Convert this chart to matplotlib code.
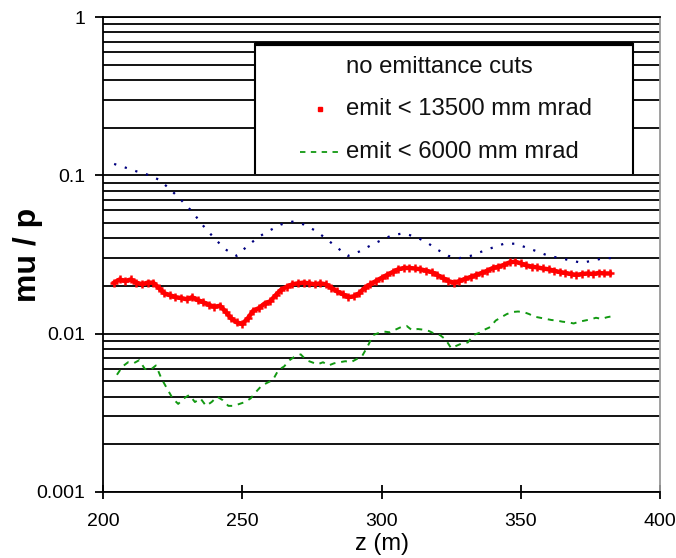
import matplotlib
matplotlib.use("Agg")
import matplotlib.pyplot as plt
from matplotlib.patches import Rectangle
from matplotlib.ticker import FixedLocator, FixedFormatter, NullLocator

plt.rcParams['font.family'] = ['Liberation Sans', 'DejaVu Sans']

# ---------------- data ----------------
z_all = [204, 208, 212, 216, 220, 224, 228, 232, 236, 240, 244, 248, 252, 256, 260,
         264, 268, 272, 276, 280, 284, 288, 292, 296, 300, 304, 308, 312, 316, 320,
         324, 328, 332, 336, 340, 344, 348, 352, 356, 360, 364, 368, 372, 376, 380, 384]
mu_all = [0.118, 0.112, 0.106, 0.101, 0.094, 0.082, 0.070, 0.059, 0.048, 0.040, 0.034,
          0.031, 0.036, 0.041, 0.045, 0.049, 0.051, 0.049, 0.045, 0.040, 0.035, 0.031,
          0.033, 0.036, 0.039, 0.042, 0.043, 0.041, 0.038, 0.034, 0.031, 0.030, 0.031,
          0.033, 0.035, 0.037, 0.037, 0.035, 0.033, 0.031, 0.030, 0.029, 0.028, 0.029,
          0.030, 0.030]

z_13500 = [204, 206, 208, 210, 212, 214, 216, 218, 220, 222, 224, 226, 228, 230, 232,
           234, 236, 238, 240, 242, 244, 246, 248, 250, 252, 254, 256, 258, 260, 262,
           264, 266, 268, 270, 272, 274, 276, 278, 280, 282, 284, 286, 288, 290, 292,
           294, 296, 298, 300, 302, 304, 306, 308, 310, 312, 314, 316, 318, 320, 322,
           324, 326, 328, 330, 332, 334, 336, 338, 340, 342, 344, 346, 348, 350, 352,
           354, 356, 358, 360, 362, 364, 366, 368, 370, 372, 374, 376, 378, 380, 382]
mu_13500 = [0.021, 0.022, 0.0215, 0.022, 0.021, 0.0205, 0.021, 0.021, 0.0195, 0.018,
            0.0175, 0.017, 0.0168, 0.0165, 0.017, 0.0163, 0.0158, 0.0152, 0.0148, 0.015,
            0.0138, 0.0125, 0.0118, 0.0115, 0.0125, 0.014, 0.0145, 0.0155, 0.016, 0.0175,
            0.019, 0.0198, 0.0205, 0.0208, 0.021, 0.0208, 0.0205, 0.0208, 0.0205, 0.0195,
            0.0185, 0.0178, 0.017, 0.0172, 0.018, 0.0195, 0.0205, 0.0215, 0.0225, 0.0235,
            0.0245, 0.0255, 0.026, 0.026, 0.0258, 0.0255, 0.025, 0.0245, 0.0235, 0.0225,
            0.0215, 0.021, 0.0215, 0.0222, 0.0228, 0.0235, 0.0242, 0.025, 0.026, 0.0265,
            0.0272, 0.0282, 0.0285, 0.0278, 0.027, 0.0265, 0.0262, 0.0258, 0.0255, 0.025,
            0.0245, 0.0242, 0.0238, 0.0235, 0.0238, 0.024, 0.0238, 0.0242, 0.024, 0.024]

z_6000 = [205, 207, 209, 211, 213, 215, 217, 219, 221, 223, 225, 227, 229, 231, 233,
          235, 237, 239, 241, 243, 245, 247, 249, 251, 253, 255, 257, 259, 261, 263,
          265, 267, 269, 271, 273, 275, 277, 279, 281, 283, 285, 287, 289, 291, 293,
          295, 297, 299, 301, 303, 305, 307, 309, 311, 313, 315, 317, 319, 321, 323,
          325, 327, 329, 331, 333, 335, 337, 339, 341, 343, 345, 347, 349, 351, 353,
          355, 357, 359, 361, 363, 365, 367, 369, 371, 373, 375, 377, 379, 381, 383]
mu_6000 = [0.0055, 0.0062, 0.0066, 0.0065, 0.0068, 0.006, 0.0059, 0.0063, 0.0052, 0.0045,
           0.0039, 0.0036, 0.0039, 0.0041, 0.0037, 0.0039, 0.0035, 0.0037, 0.004, 0.0038,
           0.0035, 0.0035, 0.0036, 0.0037, 0.0039, 0.0043, 0.0047, 0.0049, 0.0051, 0.0059,
           0.0062, 0.0068, 0.0072, 0.0074, 0.0068, 0.0066, 0.0064, 0.0066, 0.0063, 0.0065,
           0.0066, 0.0067, 0.0066, 0.0069, 0.0072, 0.0083, 0.0098, 0.0101, 0.0103, 0.0102,
           0.0106, 0.011, 0.0112, 0.0105, 0.0107, 0.0106, 0.0104, 0.01, 0.0098, 0.0092,
           0.0081, 0.0084, 0.0087, 0.0088, 0.0098, 0.0101, 0.0106, 0.011, 0.0121, 0.0127,
           0.0133, 0.0137, 0.0138, 0.0137, 0.0133, 0.0128, 0.0126, 0.0124, 0.0122, 0.0121,
           0.0119, 0.0118, 0.0116, 0.0119, 0.0121, 0.0123, 0.0126, 0.0124, 0.0127, 0.0129]

labels = ["no emittance cuts", "emit < 13500 mm mrad", "emit < 6000 mm mrad"]
x_ticks = [200, 250, 300, 350, 400]
y_ticks = [0.001, 0.01, 0.1, 1]
y_ticklabels = ["0.001", "0.01", "0.1", "1"]

# ---------------- figure ----------------
fig = plt.figure(figsize=(6.76, 5.58), dpi=100)
ax = fig.add_axes([103/676, 1-492/558, (660-103)/676, (492-17)/558])

ax.set_yscale('log')
ax.set_xlim(200, 400)
ax.set_ylim(0.001, 1)

# horizontal grid at every log minor/major position
grid_vals = [m * 10.0**e for e in (-3, -2, -1) for m in range(1, 10)] + [1.0]
for g in grid_vals:
    ax.axhline(g, color='black', lw=1.3, zorder=1)

navy = '#00007f'
green = '#119911'
ax.plot(z_all, mu_all, color=navy, lw=1.6, linestyle=(0, (1, 4)), zorder=4)
ax.plot(z_13500, mu_13500, color='red', lw=3.2, zorder=4)
ax.plot(z_13500, mu_13500, color='red', lw=0, marker='+', ms=6, mew=1.8, zorder=4)
ax.plot(z_6000, mu_6000, color=green, lw=1.4, linestyle=(0, (3, 3)), zorder=4)

# legend box (manual, to match the reference layout)
x0, x1 = (255-103)/557, (633-103)/557
y0, y1 = (492-173)/475, (492-44)/475
ax.add_patch(Rectangle((x0, y0), x1-x0, y1-y0, transform=ax.transAxes,
                       facecolor='white', edgecolor='none', zorder=2))
ax.plot([x0, x1], [y1, y1], transform=ax.transAxes, color='black', lw=3, zorder=3,
        solid_capstyle='butt')
ax.plot([x0, x0], [y0, y1], transform=ax.transAxes, color='black', lw=1.5, zorder=3)
ax.plot([x1, x1], [y0, y1], transform=ax.transAxes, color='black', lw=1.5, zorder=3)

tx = (346-103)/557
rows = [(492-67)/475, (492-109)/475, (492-152)/475]
for lab, ry in zip(labels, rows):
    ax.text(tx, ry, lab, transform=ax.transAxes, fontsize=17.2, va='center',
            ha='left', color='#111111', zorder=5)
ax.plot([(320-103)/557], [rows[1]], transform=ax.transAxes, marker='s', ms=3,
        color='red', lw=0, zorder=5)
ax.plot([(300-103)/557, (341-103)/557], [rows[2], rows[2]], transform=ax.transAxes,
        color=green, lw=1.3, linestyle=(0, (3, 3)), zorder=5)

# axes styling
ax.xaxis.set_major_locator(FixedLocator(x_ticks))
ax.yaxis.set_major_locator(FixedLocator(y_ticks))
ax.yaxis.set_major_formatter(FixedFormatter(y_ticklabels))
ax.yaxis.set_minor_locator(NullLocator())
ax.tick_params(axis='x', direction='inout', length=10, width=1.3, labelsize=14, pad=10)
ax.tick_params(axis='y', direction='out', length=6, width=1.3, labelsize=14, pad=7)
for sp in ('left', 'bottom', 'top'):
    ax.spines[sp].set_linewidth(1.3)
    ax.spines[sp].set_color('black')
ax.spines['right'].set_color('#999999')
ax.spines['right'].set_linewidth(1.3)

ax.set_xlabel("z (m)", fontsize=17, va='top')
ax.xaxis.set_label_coords(0.5, (492-533)/475)
ax.set_ylabel("mu / p", fontsize=23, fontweight='bold')
ax.yaxis.set_label_coords((43-103)/557, 0.5)

fig.savefig("out.png", dpi=100)
